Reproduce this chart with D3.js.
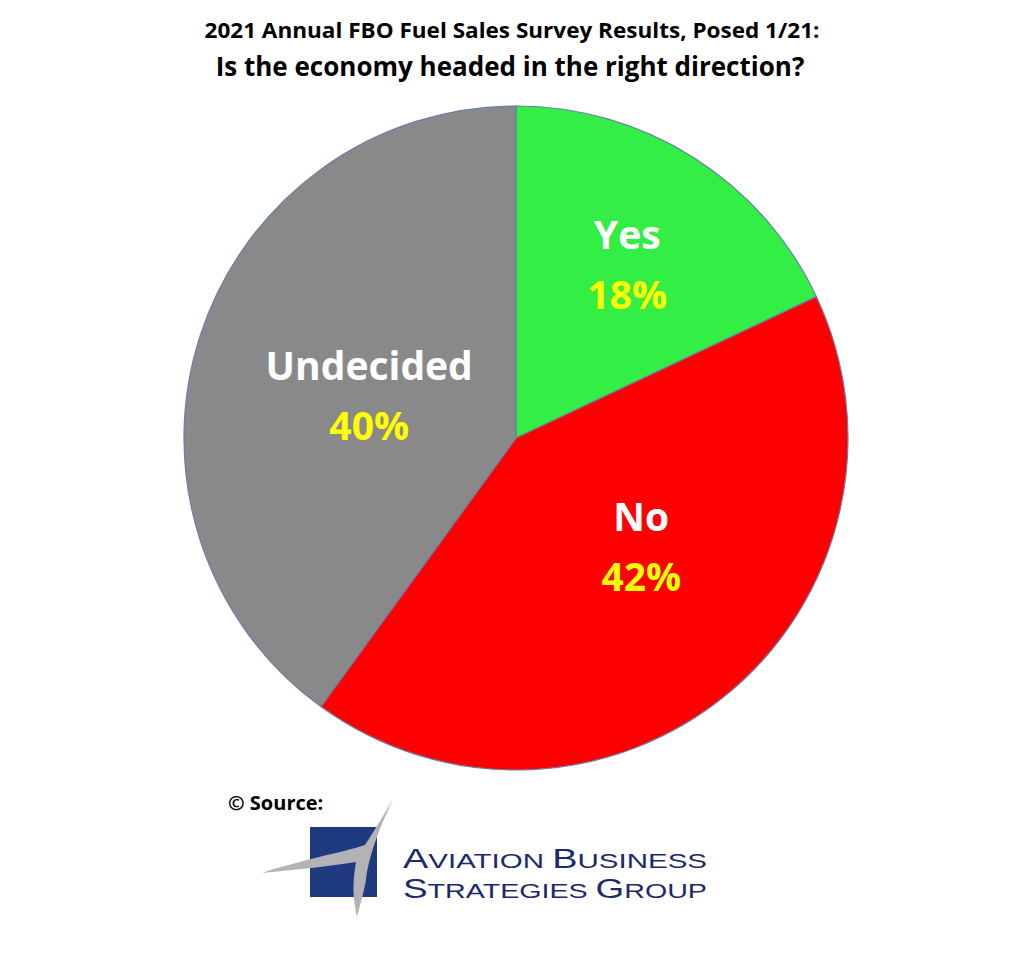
<!DOCTYPE html>
<html><head><meta charset="utf-8">
<script src="https://cdn.jsdelivr.net/npm/d3@7"></script>
<style>body{margin:0;background:#fff}</style>
</head><body>
<svg id="chart" width="1024" height="960"></svg>
<script>
var categories = ["Yes", "No", "Undecided"]
var values = [18, 42, 40]
var colors = ["#33ee44", "#ff0000", "#898989"]

var svg = d3.select("#chart")
var cx = 516, cy = 438, r = 332
// label placement (radius fraction, angle) per slice, layout only
var labelPos = [[0.62, 32.7], [0.5, 131], [0.46, 286]]

svg.append("text").attr("x", 512).attr("y", 38).attr("text-anchor", "middle")
  .style("font-family", "Open Sans").style("font-weight", "bold").style("font-size", "22px")
  .attr("textLength", 615).attr("lengthAdjust", "spacingAndGlyphs")
  .text("2021 Annual FBO Fuel Sales Survey Results, Posed 1/21:")
svg.append("text").attr("x", 510).attr("y", 76).attr("text-anchor", "middle")
  .style("font-family", "Open Sans").style("font-weight", "bold").style("font-size", "26px")
  .text("Is the economy headed in the right direction?")

var data = categories.map(function(c, i) { return {label: c, value: values[i], color: colors[i]} })
var pie = d3.pie().sort(null).value(function(d) { return d.value })
var arc = d3.arc().innerRadius(0).outerRadius(r)

var g = svg.append("g").attr("transform", "translate(" + cx + "," + cy + ")")
var slices = pie(data)
g.selectAll("path").data(slices).enter().append("path")
  .attr("d", arc).attr("fill", function(d) { return d.data.color })
  .attr("stroke", "#6a7fa8").attr("stroke-width", 1.2)

var lab = g.selectAll("g.lab").data(slices).enter().append("g").attr("class", "lab")
  .attr("transform", function(d, i) {
    var a = labelPos[i][1] * Math.PI / 180, rr = labelPos[i][0] * r
    return "translate(" + (rr * Math.sin(a)) + "," + (-rr * Math.cos(a)) + ")"
  })
lab.append("text").attr("text-anchor", "middle").attr("y", -16)
  .style("font-family", "Open Sans").style("font-weight", "bold").style("font-size", "39px")
  .attr("fill", "#fff").text(function(d) { return d.data.label })
lab.append("text").attr("text-anchor", "middle").attr("y", 44)
  .style("font-family", "Open Sans").style("font-weight", "bold").style("font-size", "39px")
  .attr("fill", "#ffff00").text(function(d) { return d.data.value + "%" })

// source + logo
svg.append("text").attr("x", 228).attr("y", 810)
  .style("font-family", "Open Sans").style("font-weight", "bold").style("font-size", "20px")
  .text("\u00a9 Source:")
var logo = svg.append("g")
logo.append("rect").attr("x", 310).attr("y", 827).attr("width", 67).attr("height", 70).attr("fill", "#1f3a7f")
logo.append("path").attr("fill", "#b3b3b5")
  .attr("d", "M262,873 C300,860 345,852 365,845 C375,830 385,812 393,800 C378,830 368,860 366,880 C363,895 360,905 357,917 C352,895 353,880 356,862 C330,866 295,870 262,873 Z")
var ft = logo.append("g").attr("fill", "#1b2a6b").style("font-family", "Liberation Sans").style("font-size", "27px")
var t1 = ft.append("text").attr("x", 403).attr("y", 868).attr("textLength", 304).attr("lengthAdjust", "spacingAndGlyphs")
t1.append("tspan").text("A"); t1.append("tspan").style("font-size", "21px").text("VIATION ")
t1.append("tspan").text("B"); t1.append("tspan").style("font-size", "21px").text("USINESS")
var t2 = ft.append("text").attr("x", 403).attr("y", 898).attr("textLength", 304).attr("lengthAdjust", "spacingAndGlyphs")
t2.append("tspan").text("S"); t2.append("tspan").style("font-size", "21px").text("TRATEGIES ")
t2.append("tspan").text("G"); t2.append("tspan").style("font-size", "21px").text("ROUP")
</script>
</body></html>
